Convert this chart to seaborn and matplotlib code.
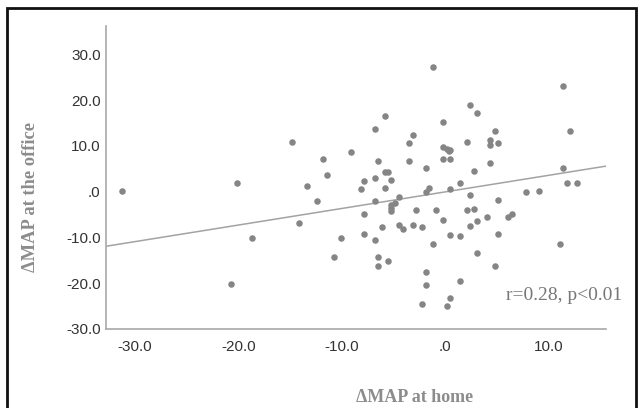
import matplotlib
matplotlib.use("Agg")
import matplotlib.pyplot as plt
import seaborn as sns
import numpy as np
import pandas as pd
from matplotlib.patches import Rectangle

# values
x_home = [-31.3, -20.1, -20.7, -18.7, -14.8, -13.4, -14.1, -12.4, -11.8, -11.4,
          -10.7, -10.1, -9.1, -8.1, -7.8, -7.8, -7.8, -6.8, -6.8, -6.8,
          -6.8, -6.5, -6.5, -6.5, -6.1, -5.8, -5.8, -5.5, -5.8, -5.5,
          -5.2, -5.2, -5.2, -5.2, -4.8, -4.5, -4.5, -4.1, -3.5, -3.1,
          -3.5, -3.1, -2.8, -2.2, -2.2, -1.8, -1.8, -1.8, -1.8, -1.5,
          -1.2, -1.2, -0.9, -0.2, -0.2, -0.2, -0.2, 0.2, 0.4, 0.5,
          0.5, 0.2, 0.5, 0.5, 0.5, 1.5, 1.5, 1.5, 2.1, 2.1,
          2.4, 2.4, 2.4, 2.8, 2.8, 3.1, 3.1, 3.1, 4.1, 4.4,
          4.4, 4.4, 4.8, 5.1, 5.1, 5.1, 4.8, 6.1, 6.5, 7.8,
          9.1, 11.1, 11.4, 11.4, 11.8, 12.1, 12.8]
y_office = [0.2, 2.0, -20.2, -10.1, 10.8, 1.2, -6.9, -2.1, 7.2, 3.6,
            -14.2, -10.1, 8.6, 0.5, 2.3, -4.8, -9.2, 13.6, 2.9, -2.1,
            -10.5, 6.6, -14.2, -16.2, -7.8, 16.6, 4.3, 4.3, 0.9, -15.2,
            2.5, -2.9, -3.6, -4.3, -2.5, -1.2, -7.4, -8.1, 10.6, 12.3,
            6.6, -7.2, -4.1, -7.8, -24.6, 5.2, -0.1, -17.5, -20.5, 0.9,
            27.3, -11.5, -4.1, 15.3, 9.7, 7.2, -6.1, 9.4, 8.9, 9.0,
            7.2, -24.9, 0.6, -9.5, -23.3, 2.0, -9.8, -19.5, 10.9, -4.1,
            19.0, -0.8, -7.5, 4.6, -3.8, 17.3, -6.5, -13.5, -5.5, 11.3,
            10.3, 6.2, 13.2, 10.6, -1.8, -9.2, -16.2, -5.5, -4.8, -0.1,
            0.1, -11.5, 23.0, 5.2, 1.9, 13.2, 1.9]

# fit line as drawn in the reference
fit_intercept = -0.06
fit_slope = 0.362

x_ticks = [-30, -20, -10, 0, 10]
x_tick_labels = ["-30.0", "-20.0", "-10.0", ".0", "10.0"]
y_ticks = [-30, -20, -10, 0, 10, 20, 30]
y_tick_labels = ["-30.0", "-20.0", "-10.0", ".0", "10.0", "20.0", "30.0"]

df = pd.DataFrame({"home": x_home, "office": y_office})

sns.set_style("white")
plt.rcParams['font.family'] = ['Liberation Sans', 'DejaVu Sans']

fig = plt.figure(figsize=(6.4, 4.08), dpi=100)
ax = fig.add_axes([0.166, 0.194, 0.781, 0.742])

sns.scatterplot(data=df, x="home", y="office", ax=ax, s=22, color="#858585",
                linewidth=0, alpha=1, zorder=3)
ax.axline((0, fit_intercept), slope=fit_slope, color="#a3a3a3", lw=1.1, zorder=2)

ax.set_xlim(-32.8, 15.6)
ax.set_ylim(-30, 36.2)
ax.set_xticks(x_ticks)
ax.set_xticklabels(x_tick_labels)
ax.set_yticks(y_ticks)
ax.set_yticklabels(y_tick_labels)
ax.tick_params(axis="x", length=0, pad=8, labelsize=11, labelcolor="#333333")
ax.tick_params(axis="y", length=0, pad=4, labelsize=11, labelcolor="#333333")
ax.set_xlabel("")
ax.set_ylabel("")
sns.despine(ax=ax)
for side in ["left", "bottom"]:
    ax.spines[side].set_color("#a8a8a8")
    ax.spines[side].set_linewidth(1.2)

ax.text(0.80, 0.109, "r=0.28, p<0.01", transform=ax.transAxes, ha="left", va="center",
        family="Liberation Serif", fontsize=14, color="#777777", clip_on=False)

fig.text(415 / 640, 1 - 397 / 408, "ΔMAP at home", ha="center", va="center",
         family="Liberation Serif", weight="bold", fontsize=13, color="#8c8c8c")
fig.text(31 / 640, 1 - 197 / 408, "ΔMAP at the office", ha="center", va="center",
         rotation=90, family="Liberation Serif", weight="bold", fontsize=13.3, color="#8c8c8c")

# outer frame
fig.patches.append(Rectangle((7 / 640, -0.02), 629 / 640, 1 - 8 / 408 + 0.02,
                             transform=fig.transFigure, fill=False, edgecolor="#111111", lw=2))

fig.savefig("out.png", dpi=100)
